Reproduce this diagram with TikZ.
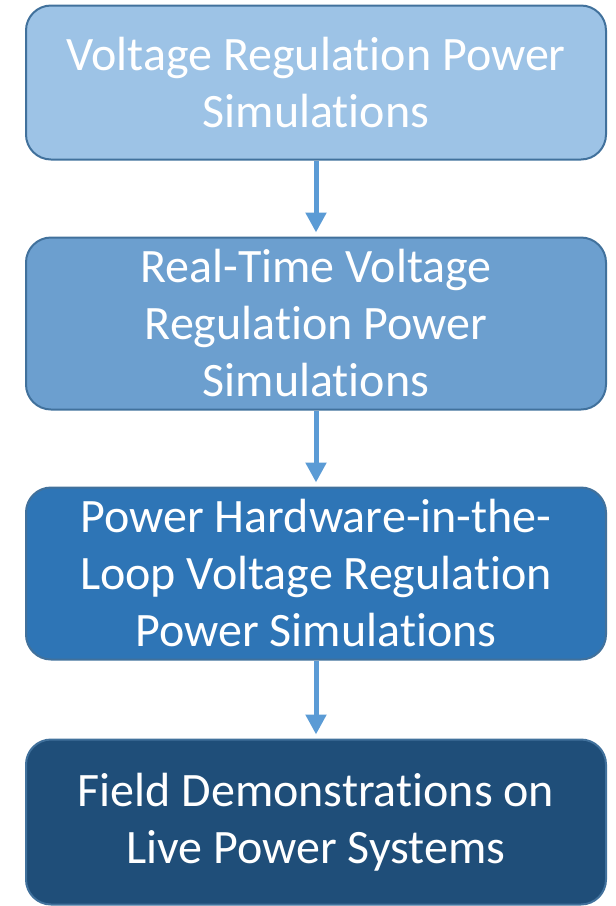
\documentclass[tikz,border=0pt]{standalone}
\usepackage{fontspec}
\setmainfont[Ligatures={NoCommon,NoContextual},RawFeature={-liga;-clig;-calt}]{Carlito}
\usetikzlibrary{arrows.meta}
\definecolor{stepA}{HTML}{9DC3E6}
\definecolor{stepB}{HTML}{6C9FCF}
\definecolor{stepC}{HTML}{2E75B6}
\definecolor{stepD}{HTML}{1F4E79}
\definecolor{edgeblue}{HTML}{41719C}
\definecolor{arrowblue}{HTML}{5B9BD5}
\tikzset{
  stagebox/.style={draw=edgeblue, line width=2pt, rounded corners=25pt, text=white,
    minimum width=580pt, align=center, inner sep=0pt,
    font=\fontsize{48}{57}\selectfont},
  flow/.style={draw=arrowblue, line width=5pt, -{Triangle[width=20pt,length=20pt]}, shorten >=4pt}
}
\begin{document}
\begin{tikzpicture}[x=1pt,y=-1pt]
			\useasboundingbox (0,0) rectangle (616,906);
			\node[stagebox, fill=stepA, minimum height=154pt] (sim) at (316,82.5) {Voltage Regulation Power\\Simulations};
			\node[stagebox, fill=stepB, minimum height=172pt] (rts) at (316,323.5) {Real-Time Voltage\\Regulation Power\\Simulations};
			\node[stagebox, fill=stepC, minimum height=172pt] (phil) at (316,573.5) {Power Hardware-in-the-\\Loop Voltage Regulation\\Power Simulations};
			\node[stagebox, fill=stepD, minimum height=165pt] (field) at (316,822) {Field Demonstrations on\\Live Power Systems};
			\draw[flow] (sim) -- (rts);
			\draw[flow] (rts) -- (phil);
			\draw[flow] (phil) -- (field);
		\end{tikzpicture}
\end{document}
